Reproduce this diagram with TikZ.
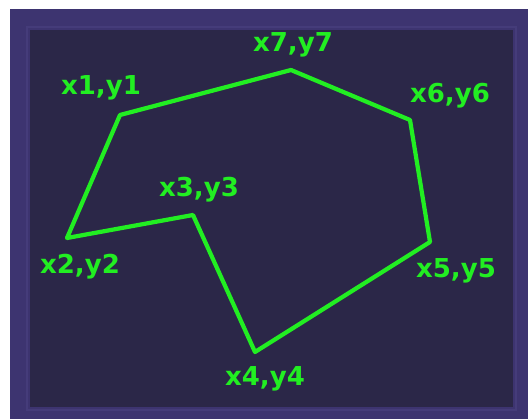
\documentclass[tikz,border=0pt]{standalone}
\usepackage{fontspec}
\newfontfamily\labelfont{DejaVu Sans}
\definecolor{framepurple}{HTML}{3D3470}
\definecolor{frameedge}{HTML}{453C7A}
\definecolor{screen}{HTML}{2B2748}
\definecolor{trace}{HTML}{22EE22}
\tikzset{
  pt/.style={font=\labelfont\bfseries\fontsize{18.5}{20}\selectfont, text=trace, inner sep=0pt},
  edge/.style={trace, line width=3pt, line join=round}
}
\begin{document}
\begin{tikzpicture}[x=0.025cm, y=-0.025cm]
    \useasboundingbox (0,0) rectangle (528,419);
    \fill[white] (0,0) rectangle (528,419);
    \fill[framepurple] (10,9) rectangle (528,419);
    \draw[frameedge, line width=1.2pt] (27,27) rectangle (516,410);
    \fill[screen] (30,30) rectangle (513,407);
    % corners of the shape
    \coordinate (p1) at (120,115);
    \coordinate (p2) at (67,238);
    \coordinate (p3) at (193,215);
    \coordinate (p4) at (255,352);
    \coordinate (p5) at (430,242);
    \coordinate (p6) at (410,120);
    \coordinate (p7) at (291,70);
    \draw[edge] (p1) -- (p2) -- (p3) -- (p4) -- (p5) -- (p6) -- (p7) -- cycle;
    \node[pt] (l1) at (101,88) {x1,y1};
    \node[pt] (l2) at (80,267) {x2,y2};
    \node[pt] (l3) at (199,190) {x3,y3};
    \node[pt] (l4) at (265,379) {x4,y4};
    \node[pt] (l5) at (456,271) {x5,y5};
    \node[pt] (l6) at (450,96) {x6,y6};
    \node[pt] (l7) at (293,45) {x7,y7};
\end{tikzpicture}
\end{document}
